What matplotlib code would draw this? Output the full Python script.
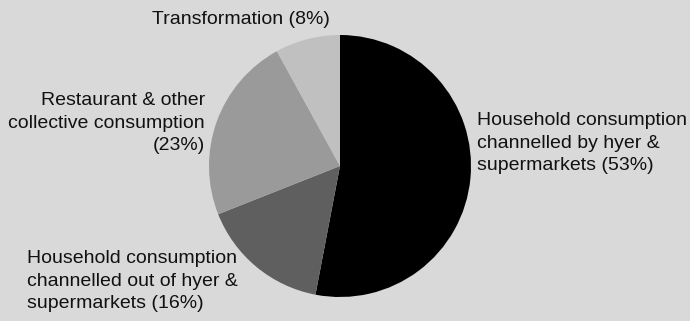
import matplotlib.pyplot as plt

shares = [53, 16, 23, 8]
labels = [
    "Household consumption\nchannelled by hyer &\nsupermarkets (53%)",
    "Household consumption\nchannelled out of hyer &\nsupermarkets (16%)",
    "Restaurant & other\ncollective consumption\n(23%)",
    "Transformation (8%)",
]
colors = ["#000000", "#5f5f5f", "#9a9a9a", "#c0c0c0"]

bg = "#d9d9d9"
W, H = 690, 321

plt.rcParams['font.family'] = ['Liberation Sans', 'DejaVu Sans']

fig = plt.figure(figsize=(W / 100, H / 100), dpi=100, facecolor=bg)
ax = fig.add_axes([0, 0, 1, 1])
ax.set_facecolor(bg)

ax.pie(shares, colors=colors, startangle=90, counterclock=False,
       center=(340, H - 166), radius=131, frame=True,
       wedgeprops=dict(linewidth=0))
ax.set_xlim(0, W)
ax.set_ylim(0, H)
ax.set_aspect('equal')
ax.axis('off')

# label anchors (x, y from top, alignment)
spots = [
    (477, 143, 'left'),
    (27, 281, 'left'),
    (205, 123, 'right'),
    (241, 19, 'center'),
]
for txt, (x, y, ha) in zip(labels, spots):
    ax.text(x, H - y, txt, ha=ha, va='center', fontsize=14, color="#111111",
            multialignment=ha, linespacing=1.42)

fig.savefig("out.png", dpi=100, facecolor=bg)
